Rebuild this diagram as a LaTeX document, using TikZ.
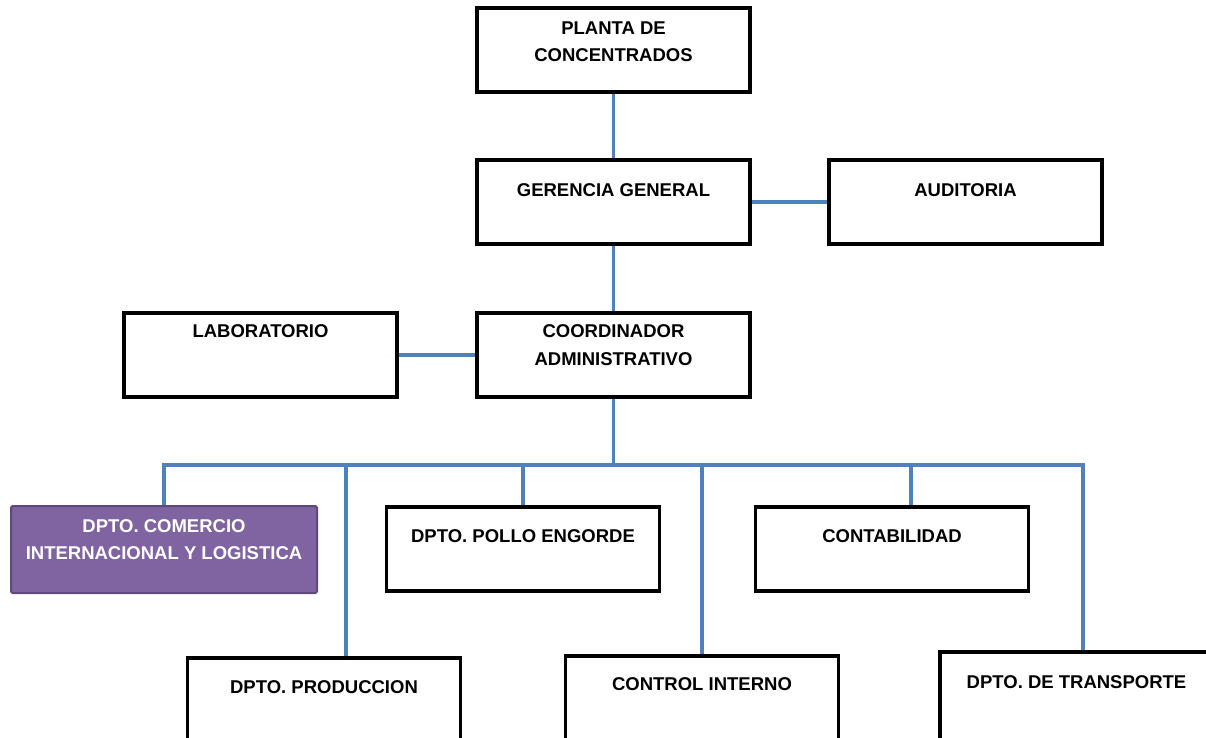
\documentclass[tikz,border=0pt]{standalone}
\usepackage{fontspec}
\setmainfont{Liberation Sans}
\usetikzlibrary{positioning}
\definecolor{azul}{HTML}{4F81BD}
\definecolor{morado}{HTML}{8064A2}
\definecolor{moradoborde}{HTML}{5F497A}

\begin{document}
\begin{tikzpicture}[x=1pt,y=-1pt]
          \useasboundingbox (0,0) rectangle (1206,738);
          \clip (0,0) rectangle (1206,738);

          \begin{scope}[every node/.style={rectangle,draw,line width=3.2pt,minimum width=273pt,minimum height=84pt,inner sep=0pt}]
            \node (planta) at (613.5,50) {};
            \node (gerencia) at (613.5,202) {};
            \node (auditoria) at (965.5,202) {};
            \node (laboratorio) at (260.5,355) {};
            \node (coordinador) at (613.5,355) {};
            \node (comercio) [draw=moradoborde,fill=morado,line width=2pt,rounded corners=1.5pt,minimum width=306pt,minimum height=87pt] at (164,549.5) {};
            \node (pollo) at (523,549) {};
            \node (contabilidad) at (892,549) {};
            \node (produccion) at (324,700) {};
            \node (control) at (702,698) {};
            \node (transporte) [minimum height=94pt] at (1076.5,699) {};
          \end{scope}

          \begin{scope}[every node/.style={font=\bfseries\fontsize{18.5}{27.5}\selectfont,align=center,anchor=north,inner sep=0pt}]
            \node (planta-t) at ([yshift=-15pt]planta.north) {PLANTA DE\\CONCENTRADOS};
            \node (gerencia-t) at ([yshift=-25pt]gerencia.north) {GERENCIA GENERAL};
            \node (auditoria-t) at ([yshift=-25pt]auditoria.north) {AUDITORIA};
            \node (laboratorio-t) at ([yshift=-13pt]laboratorio.north) {LABORATORIO};
            \node (coordinador-t) at ([yshift=-13pt]coordinador.north) {COORDINADOR\\ADMINISTRATIVO};
            \node (comercio-t) [text=white] at ([yshift=-14pt]comercio.north) {DPTO. COMERCIO\\INTERNACIONAL Y LOGISTICA};
            \node (pollo-t) at ([yshift=-24pt]pollo.north) {DPTO. POLLO ENGORDE};
            \node (contabilidad-t) at ([yshift=-24pt]contabilidad.north) {CONTABILIDAD};
            \node (produccion-t) at ([yshift=-24pt]produccion.north) {DPTO. PRODUCCION};
            \node (control-t) at ([yshift=-23pt]control.north) {CONTROL INTERNO};
            \node (transporte-t) at ([yshift=-25pt]transporte.north) {DPTO. DE TRANSPORTE};
          \end{scope}

          \coordinate (bus) at (613.5,465);

          \begin{scope}[color=azul,line width=3.6pt]
            \path (planta) edge (gerencia);
            \path (gerencia) edge (coordinador) edge (auditoria);
            \path (coordinador) edge (laboratorio) edge (bus);
            \draw (comercio.north) |- (bus) -| ([xshift=6.5pt]transporte.north);
            \draw ([xshift=22pt]produccion.north) -- ([xshift=22pt]produccion.north |- bus);
            \draw (pollo.north) -- (pollo.north |- bus);
            \draw (control.north) -- (control.north |- bus);
            \draw ([xshift=19pt]contabilidad.north) -- ([xshift=19pt]contabilidad.north |- bus);
          \end{scope}
        \end{tikzpicture}
\end{document}
